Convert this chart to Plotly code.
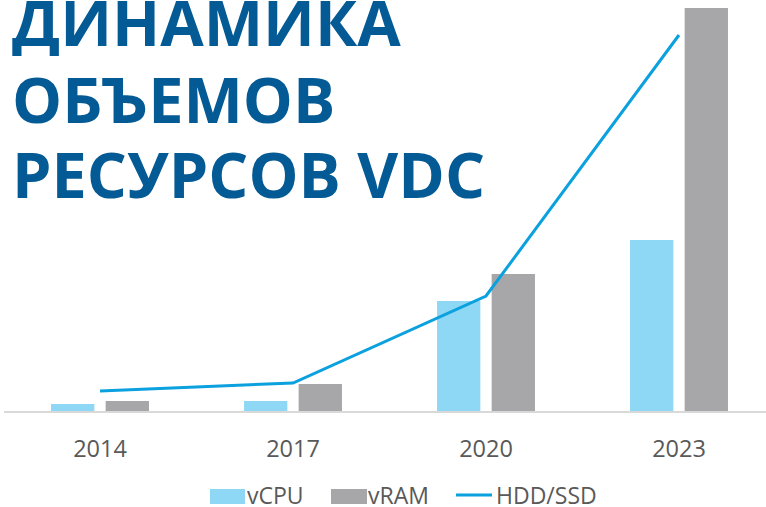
import plotly.graph_objects as go

# ---- data ----
years = ["2014", "2017", "2020", "2023"]
vcpu = [7, 10, 110, 171]
vram = [10, 27, 137, 403]
hdd_ssd = [20, 28, 115, 376]
title_lines = ["ДИНАМИКА", "ОБЪЕМОВ", "РЕСУРСОВ VDC"]
legend_names = ["vCPU", "vRAM", "HDD/SSD"]

# ---- styles ----
C_VCPU = "#8fd8f5"
C_VRAM = "#a7a7aa"
C_LINE = "#0ba0de"
C_TITLE = "#045a94"
C_TEXT = "#595959"
FONT = "Open Sans"

W, H = 766, 507
ML, MR, MT, MB = 4, 0, 0, 96
PW = W - ML - MR
PH = H - MT - MB

def px_x(px):
    return (px - ML) / PW

def px_y(py):
    return (H - MB - py) / PH

xs = list(range(len(years)))

fig = go.Figure()
fig.add_trace(go.Bar(x=xs, y=vcpu, name=legend_names[0], marker=dict(color=C_VCPU, line=dict(width=0))))
fig.add_trace(go.Bar(x=xs, y=vram, name=legend_names[1], marker=dict(color=C_VRAM, line=dict(width=0))))
fig.add_trace(go.Scatter(x=xs, y=hdd_ssd, name=legend_names[2], mode="lines",
                         line=dict(color=C_LINE, width=3)))

step = 193.0
x0 = -(100 - ML) / step
x1 = x0 + PW / step

fig.update_layout(
    width=W, height=H,
    margin=dict(l=ML, r=MR, t=MT, b=MB),
    paper_bgcolor="white", plot_bgcolor="white",
    barmode="group", bargap=0.434, bargroupgap=0.207,
    showlegend=False,
    font=dict(family=FONT, color=C_TEXT),
    xaxis=dict(range=[x0, x1], tickmode="array", tickvals=xs, ticktext=years,
               showgrid=False, zeroline=False, showline=True, linecolor="#d9d9d9", linewidth=2,
               ticks="", tickfont=dict(family=FONT, size=23.5, color=C_TEXT),
               ticklabelstandoff=16, fixedrange=True),
    yaxis=dict(range=[0, PH], visible=False, showgrid=False, zeroline=False, fixedrange=True),
)

# title (three lines)
title_centers = [21, 98, 173]
for txt, cy in zip(title_lines, title_centers):
    fig.add_annotation(text=f"<b>{txt}</b>", xref="paper", yref="paper",
                       x=px_x(10), y=px_y(cy), xanchor="left", yanchor="middle",
                       height=70, showarrow=False, font=dict(family=FONT, size=63, color=C_TITLE))

# custom legend
fig.add_shape(type="rect", xref="paper", yref="paper", x0=px_x(210), x1=px_x(245),
              y0=px_y(504), y1=px_y(489), fillcolor=C_VCPU, line=dict(width=0))
fig.add_shape(type="rect", xref="paper", yref="paper", x0=px_x(331), x1=px_x(367),
              y0=px_y(504), y1=px_y(489), fillcolor=C_VRAM, line=dict(width=0))
fig.add_shape(type="line", xref="paper", yref="paper", x0=px_x(456), x1=px_x(492),
              y0=px_y(495), y1=px_y(495), line=dict(color=C_LINE, width=3))
for name, lx in zip(legend_names, [245, 366, 494]):
    fig.add_annotation(text=name, xref="paper", yref="paper", x=px_x(lx), y=px_y(495),
                       xanchor="left", yanchor="middle", height=22, showarrow=False,
                       font=dict(family=FONT, size=23, color=C_TEXT))

fig.write_html("out.html", config={"displayModeBar": False},
               post_script="document.body.style.margin='0';document.body.style.overflow='hidden';")
